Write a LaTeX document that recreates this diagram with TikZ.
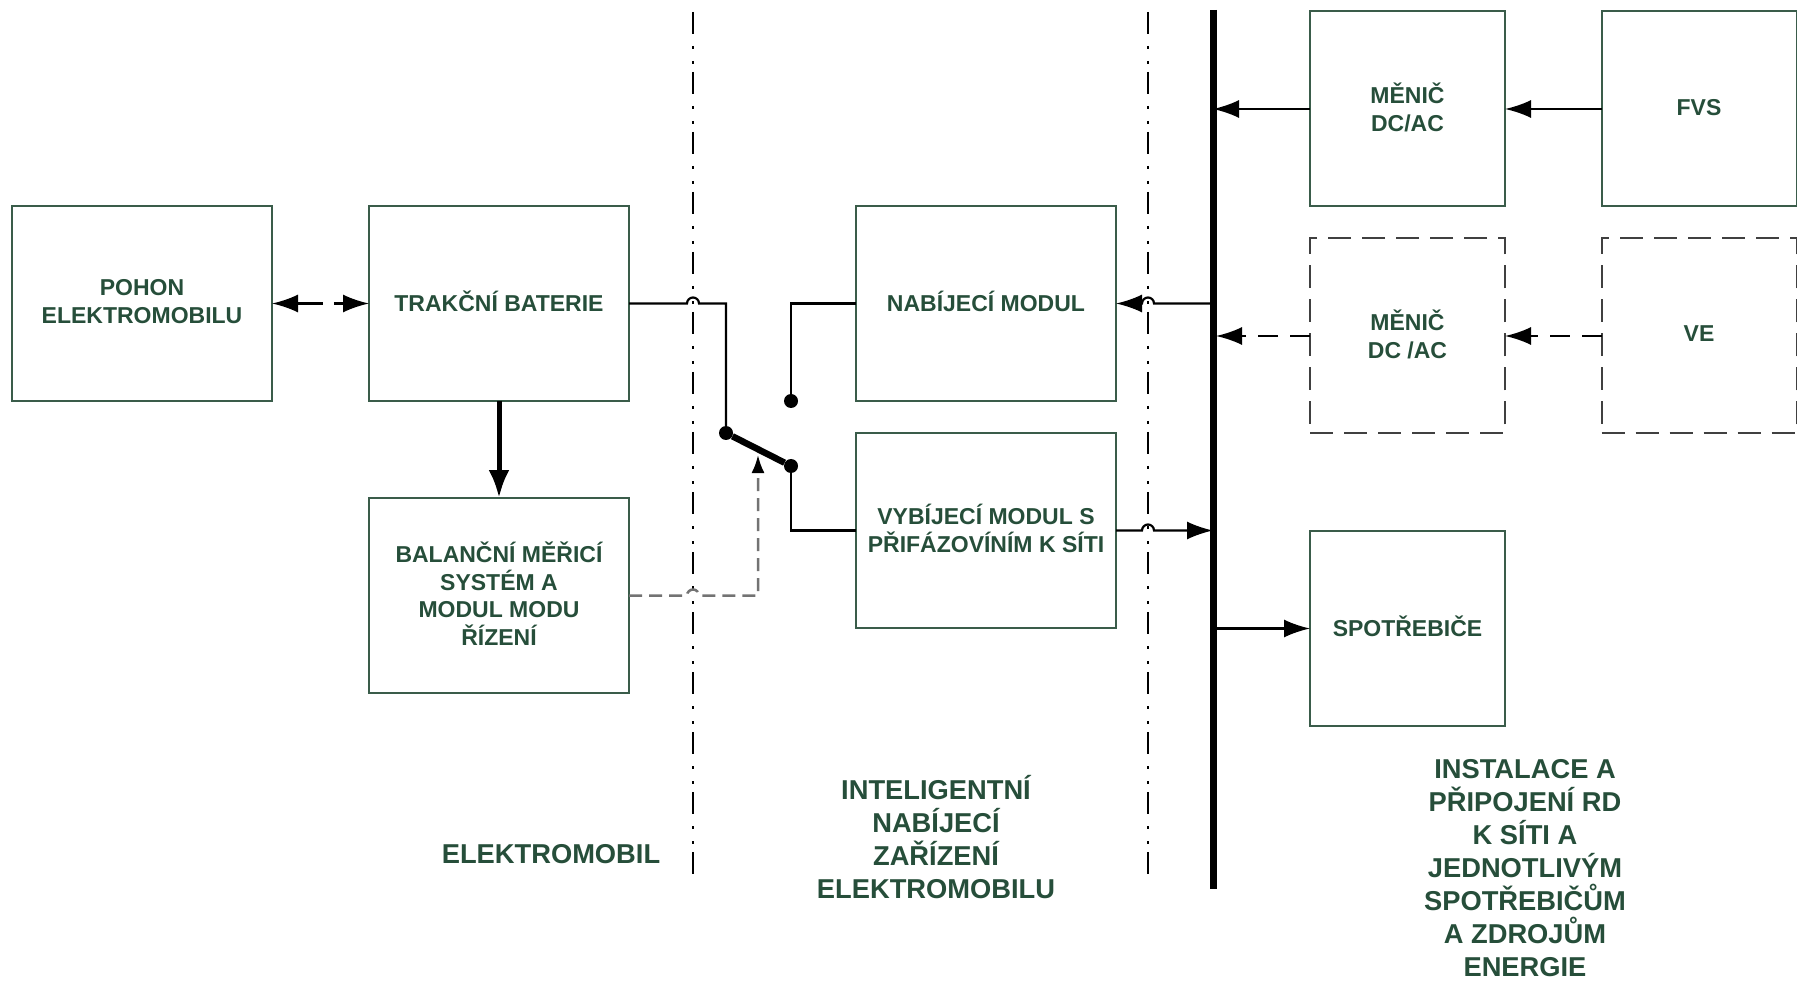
\documentclass[tikz,border=0pt]{standalone}
\usepackage{fontspec}
\setmainfont{Liberation Sans}
\usetikzlibrary{arrows.meta, calc}
\definecolor{boxgreen}{RGB}{58,92,74}
\definecolor{textgreen}{RGB}{38,78,58}
\definecolor{signalgray}{RGB}{115,115,115}
\tikzset{
	box/.style={draw=boxgreen, line width=2pt, inner sep=0pt, outer sep=0pt, minimum height=195pt, minimum width=260pt, align=center, text=textgreen, text depth=4pt, font=\fontsize{23}{27.5}\selectfont\bfseries},
	smallbox/.style={box, minimum width=195pt},
	dashbox/.style={smallbox, draw=black!75, dash pattern=on 23pt off 11pt},
	caption/.style={inner sep=0pt, align=center, text=textgreen, font=\fontsize{27.3}{33}\selectfont\bfseries},
	wire/.style={line width=2.2pt},
	dashwire/.style={wire, dash pattern=on 20pt off 12pt},
	sepline/.style={line width=2.4pt, dash pattern=on 22pt off 12pt on 3pt off 12pt on 3pt off 8pt},
	swdot/.style={circle, fill=black, inner sep=0pt, minimum size=14pt}
}
\begin{document}
\begin{tikzpicture}[x=1pt, y=-1pt, >={Latex[length=26pt,width=18pt]}]
	\useasboundingbox (0,0) rectangle (1797,981);
	% Bloky
	\node[box] (pohon) at (142,303.5) {POHON\\ELEKTROMOBILU};
	\node[box] (trak) at (499,303.5) {TRAKČNÍ BATERIE};
	\node[box] (bal) at (499,595.5) {BALANČNÍ MĚŘICÍ\\SYSTÉM A\\MODUL MODU\\ŘÍZENÍ};
	\node[box] (nab) at (986,303.5) {NABÍJECÍ MODUL};
	\node[box] (vyb) at (986,530.5) {VYBÍJECÍ MODUL S\\PŘIFÁZOVÍNÍM K SÍTI};
	\node[smallbox] (menica) at (1407.5,109) {MĚNIČ\\DC/AC};
	\node[smallbox] (fvs) at (1699,109) {FVS};
	\node[dashbox] (menicb) at (1407.5,336) {MĚNIČ\\DC /AC};
	\node[dashbox] (ve) at (1699,336) {VE};
	\node[smallbox] (spot) at (1407.5,628.5) {SPOTŘEBIČE};
	% Popisky
	\node[caption] (capa) at (551,854) {ELEKTROMOBIL};
	\node[caption] (capb) at (936,837) {INTELIGENTNÍ\\NABÍJECÍ\\ZAŘÍZENÍ\\ELEKTROMOBILU};
	\node[caption] (capc) at (1525,868) {INSTALACE A\\PŘIPOJENÍ RD\\K SÍTI A\\JEDNOTLIVÝM\\SPOTŘEBIČŮM\\A ZDROJŮM\\ENERGIE};
	% Hranice
	\coordinate (sepa) at (693,12);
	\coordinate (sepb) at (1148,12);
	\coordinate (bus) at (1213,10);
	\draw[sepline] (sepa) -- (693,880);
	\draw[sepline] (sepb) -- (1148,880);
	\draw[line width=7pt] (bus) -- (1213,889);
	% Prepinac
	\node[swdot] (swa) at (726,433) {};
	\node[swdot] (swb) at (791,466) {};
	\node[swdot] (swc) at (791,401) {};
	\draw[line width=6.5pt] (swa) -- (swb);
	\coordinate (swm) at (758,455);
	% Spoje
	\draw[<->, wire, dash pattern=on 26pt off 11pt on 60pt off 0pt] (pohon.east) -- (trak.west);
	\draw[-{Latex[length=28pt,width=21pt]}, line width=5pt] (trak.south) -- (bal.north);
	\draw[wire] (trak.east) -- ($(sepa |- trak.east)+(-6,0)$) arc[start angle=180, end angle=0, radius=6pt] -- (swa |- trak.east) -- (swa);
	\draw[wire] (nab.west) -- (swc |- nab.west) -- (swc);
	\draw[wire] (swb) -- (swb |- vyb.west) -- (vyb.west);
	\draw[-{Latex[length=18pt,width=13pt,black]}, line width=2.5pt, signalgray, dash pattern=on 13pt off 7pt] (bal.east) -- ($(sepa |- bal.east)+(-6,0)$) arc[start angle=180, end angle=0, radius=6pt] -- (swm |- bal.east) -- (swm);
	\draw[->, wire] (bus |- nab.east) -- ($(sepb |- nab.east)+(6,0)$) arc[start angle=0, end angle=180, radius=6pt] -- (nab.east);
	\draw[->, wire] (vyb.east) -- ($(sepb |- vyb.east)+(-6,0)$) arc[start angle=180, end angle=0, radius=6pt] -- (bus |- vyb.east);
	\draw[->, wire] (menica.west) -- (bus |- menica.west);
	\draw[->, wire] (fvs.west) -- (menica.east);
	\draw[->, dashwire] (menicb.west) -- ([xshift=3pt]bus |- menicb.west);
	\draw[->, dashwire] (ve.west) -- (menicb.east);
	\draw[->, wire] (bus |- spot.west) -- (spot.west);
\end{tikzpicture}
\end{document}
